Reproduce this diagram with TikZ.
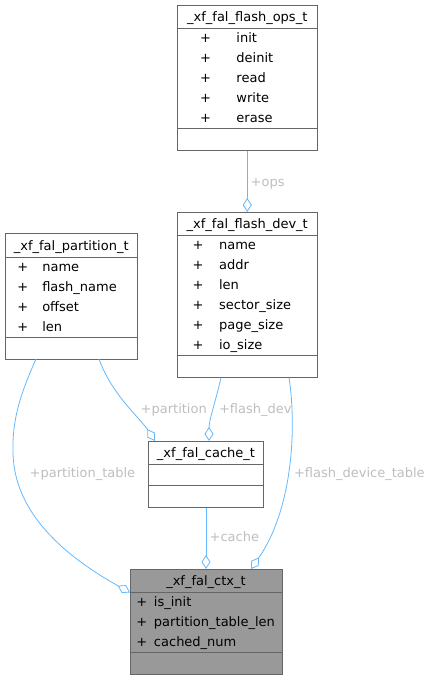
\documentclass[tikz,border=0pt]{standalone}
\usepackage{fontspec}
\setmainfont{DejaVu Sans}
\usepackage{tikz}
\usetikzlibrary{positioning, arrows.meta}
\definecolor{edgeblue}{HTML}{63B8FF}
\definecolor{lblgrey}{HTML}{BEBEBE}
\definecolor{boxgrey}{HTML}{666666}
\definecolor{ctxgrey}{HTML}{999999}

\begin{document}
\begin{tikzpicture}[x=1pt, y=1pt, inner sep=0pt, outer sep=0pt,
      font=\fontsize{13}{20}\selectfont,
      cls/.style={draw=boxgrey, line width=1pt, anchor=north west, minimum height=23.5pt,
        text height=12pt, text depth=2.5pt},
      mbr/.style={draw=boxgrey, line width=1pt, align=left},
      emp/.style={draw=boxgrey, line width=1pt, minimum height=22pt},
      agg/.style={draw=edgeblue, line width=0.8pt, -{Diamond[fill=white, length=14pt, width=9pt]}},
      lbl/.style={text=lblgrey, anchor=base west}]
      \useasboundingbox (0,0) rectangle (433,-680);
      % flash ops
      \node[cls, minimum width=139.5pt] (ops) at (177.5,-5) {\_xf\_fal\_flash\_ops\_t};
      \node[mbr, text width=139.5pt, below=0pt of ops] (ops_m) {\begin{tabular}{@{\hspace{22.5pt}}c@{\hspace{25.6pt}}l@{}}
        + & init\\ + & deinit\\ + & read\\ + & write\\ + & erase
      \end{tabular}};
      \node[emp, minimum width=139.5pt, below=0pt of ops_m] (ops_e) {};
      % flash dev
      \node[cls, minimum width=139.5pt] (dev) at (177.5,-212) {\_xf\_fal\_flash\_dev\_t};
      \node[mbr, text width=139.5pt, below=0pt of dev] (dev_m) {\begin{tabular}{@{\hspace{15.1pt}}c@{\hspace{15.6pt}}l@{}}
        + & name\\ + & addr\\ + & len\\ + & sector\_size\\ + & page\_size\\ + & io\_size
      \end{tabular}};
      \node[emp, minimum width=139.5pt, below=0pt of dev_m] (dev_e) {};
      \path (ops_e) edge[agg] (dev);
      % partition
      \node[cls, minimum width=132.5pt] (part) at (5,-233.5) {\_xf\_fal\_partition\_t};
      \node[mbr, text width=132.5pt, below=0pt of part] (part_m) {\begin{tabular}{@{\hspace{12.5pt}}c@{\hspace{13.9pt}}l@{}}
        + & name\\ + & flash\_name\\ + & offset\\ + & len
      \end{tabular}};
      \node[emp, minimum width=132.5pt, below=0pt of part_m] (part_e) {};
      % cache
      \node[cls, minimum width=115pt] (cache) at (148.5,-441) {\_xf\_fal\_cache\_t};
      \node[emp, minimum width=115pt, minimum height=21pt, below=0pt of cache] (cache_m) {};
      \node[emp, minimum width=115pt, below=0pt of cache_m] (cache_e) {};
      \draw[agg] ([xshift=94pt]part_e.south west) .. controls (112,-395) and (140,-418) .. ([xshift=6.5pt]cache.north west);
      \draw[agg] ([xshift=43.5pt]dev_e.south west) .. controls (216,-400) and (209,-420) .. ([xshift=60.5pt]cache.north west);
      % ctx
      \node[cls, fill=ctxgrey, minimum width=152pt] (ctx) at (130,-569) {\_xf\_fal\_ctx\_t};
      \node[mbr, fill=ctxgrey, text width=152pt, below=0pt of ctx] (ctx_m) {\begin{tabular}{@{\hspace{6.25pt}}c@{\hspace{6.85pt}}l@{}}
        + & is\_init\\ + & partition\_table\_len\\ + & cached\_num
      \end{tabular}};
      \node[emp, fill=ctxgrey, minimum width=152pt, below=0pt of ctx_m] (ctx_e) {};
      \path (cache_e) edge[agg] (ctx);
      \draw[agg] ([xshift=31pt]part_e.south west) .. controls (20,-395) and (12,-420) .. (13,-453)
        .. controls (14,-500) and (45,-545) .. (ctx.south west);
      \draw[agg] ([xshift=111.5pt]dev_e.south west) .. controls (297,-430) and (292,-510) .. ([xshift=121pt]ctx.north west);
      % labels
      \node[lbl] (l_ops) at (250.7,-186) {+ops};
      \node[lbl] (l_part) at (140.7,-413.5) {+partition};
      \node[lbl] (l_dev) at (219,-413.5) {+flash\_dev};
      \node[lbl] (l_cache) at (209.7,-541.5) {+cache};
      \node[lbl] (l_ptab) at (29.7,-477.5) {+partition\_table};
      \node[lbl] (l_dtab) at (294,-477.5) {+flash\_device\_table};
  \end{tikzpicture}
\end{document}
